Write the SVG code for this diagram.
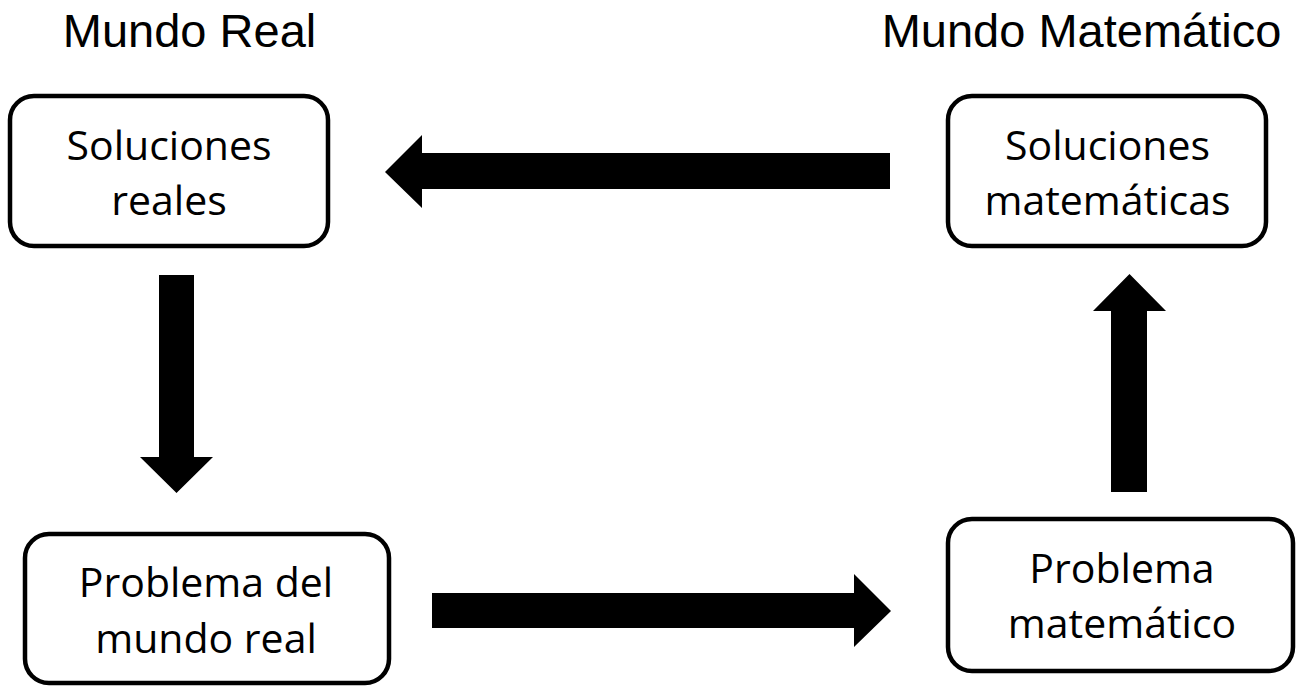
<svg xmlns="http://www.w3.org/2000/svg" width="1297" height="686" viewBox="0 0 1297 686">
<style>
.box{fill:#fff;stroke:#000;stroke-width:4.5}
.lbl{font-family:"Open Sans","Noto Sans",sans-serif;font-size:41px;fill:#000;text-anchor:middle}
.title{font-family:"Liberation Sans",Arial,sans-serif;font-size:47px;fill:#000;text-anchor:middle}
.arrow{fill:#000}
</style>
<rect width="1297" height="686" fill="#fff"/>
<text id="title-real" class="title" x="189.5" y="47">Mundo Real</text>
<text id="title-mat" class="title" x="1081.5" y="47">Mundo Matemático</text>
<g id="connectors">
<polygon class="arrow" points="890,153 422,153 422,135 385,172 422,208 422,189 890,189"/>
<polygon class="arrow" points="159,275 194,275 194,457 213,457 176.5,493 140,457 159,457"/>
<polygon class="arrow" points="432,593 854,593 854,574 891,611 854,647 854,628 432,628"/>
<polygon class="arrow" points="1111,492 1147,492 1147,311 1166,311 1129.5,274 1093,311 1111,311"/>
</g>
<g id="soluciones-reales">
<rect class="box" x="10" y="96" width="318" height="150" rx="24"/>
<text class="lbl" x="169" y="160">Soluciones</text>
<text class="lbl" x="169" y="215">reales</text>
</g>
<g id="soluciones-matematicas">
<rect class="box" x="948" y="96" width="318" height="150" rx="24"/>
<text class="lbl" x="1107.5" y="160">Soluciones</text>
<text class="lbl" x="1107.5" y="215">matemáticas</text>
</g>
<g id="problema-real">
<rect class="box" x="25" y="534" width="364" height="149" rx="24"/>
<text class="lbl" x="206" y="597">Problema del</text>
<text class="lbl" x="206" y="653">mundo real</text>
</g>
<g id="problema-matematico">
<rect class="box" x="948" y="519" width="345" height="152" rx="24"/>
<text class="lbl" x="1122" y="583">Problema</text>
<text class="lbl" x="1122" y="638">matemático</text>
</g>
</svg>
